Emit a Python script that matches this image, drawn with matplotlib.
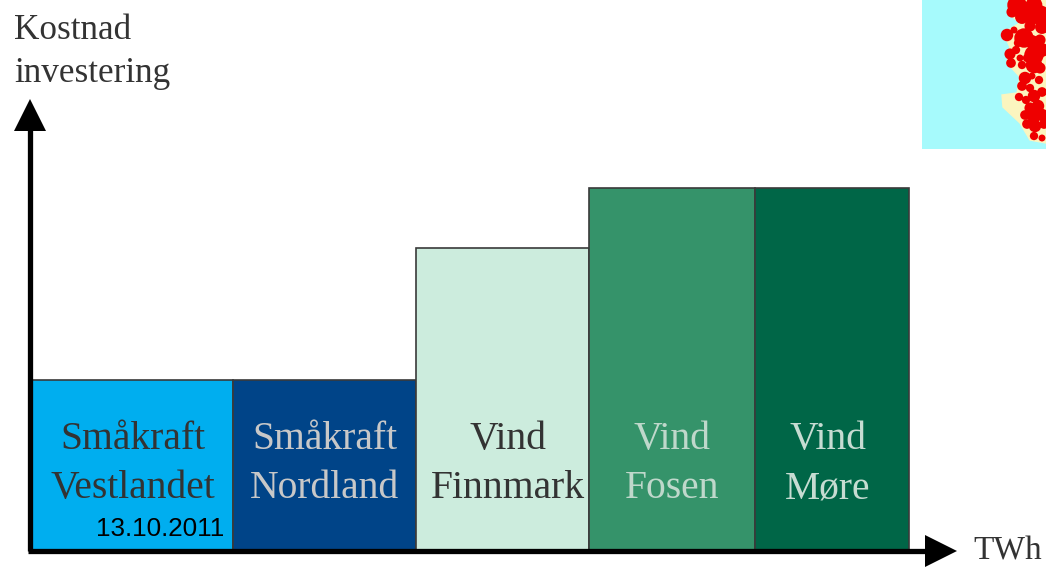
import matplotlib
matplotlib.use("Agg")
from matplotlib import pyplot as plt
from matplotlib.patches import Polygon

labels = ["Småkraft\nVestlandet", "Småkraft\nNordland", "Vind\nFinnmark", "Vind\nFosen", "Vind\nMøre"]
widths = [201, 183, 173, 166, 154]
heights = [170, 170, 302, 362, 362]
colors = ["#00AEEF", "#004488", "#CCECDD", "#35936A", "#006647"]
text_colors = ["#333333", "#C8C8C8", "#333333", "#BFD8CB", "#C6DCD2"]
label_shift = [0, 0, 5, 0, -4]

ylabel = "Kostnad\ninvestering"
xlabel = "TWh"
date = "13.10.2011"

# map inset: coast outline and red dots, in inset pixels
land_x = [88, 86, 98, 81, 88, 85, 98, 95, 80, 81, 98, 108, 124, 124]
land_y = [0, 13, 23, 33, 47, 63, 77, 93, 95, 107, 123, 140, 143, 0]
blob_x = [95, 103, 90, 112, 118, 110, 100, 120, 108, 85, 92, 102, 110, 96, 118, 88, 94, 112, 120, 105, 89, 100,
          112, 118, 98, 103, 110, 117, 100, 108, 97, 112, 120, 104, 108, 116, 103, 112, 120, 105, 113, 122, 112, 120]
blob_y = [5, 10, 12, 5, 15, 18, 17, 27, 26, 35, 30, 38, 42, 43, 40, 54, 50, 55, 50, 58, 63, 65,
          65, 68, 58, 78, 76, 80, 86, 88, 97, 96, 92, 100, 108, 106, 115, 116, 115, 124, 126, 124, 136, 138]
blob_d = [14, 12, 8, 12, 14, 10, 10, 10, 8, 9, 5, 14, 10, 6, 8, 8, 6, 14, 10, 6, 7, 6,
          12, 8, 5, 9, 5, 6, 7, 6, 6, 9, 7, 6, 8, 9, 7, 10, 9, 7, 9, 7, 6, 5]

fig = plt.figure(figsize=(10.46, 5.68), dpi=100)
ax = fig.add_axes([0, 0, 1, 1])
ax.set_xlim(-32, 1014)
ax.set_ylim(-18, 550)
ax.axis("off")

left = 0
for label, w, h, c, tc, dx in zip(labels, widths, heights, colors, text_colors, label_shift):
    ax.bar(left, h, width=w, align="edge", color=c, edgecolor="#3A3A3A", linewidth=1.2, zorder=2)
    ax.text(left + w / 2 + dx, 86, label, ha="center", va="center", color=tc, family="Liberation Serif",
            fontsize=28.5, linespacing=1.45, zorder=3)
    left += w

# axes with arrow heads
ax.plot([-2, -2], [-1, 430], color="black", lw=3.8, zorder=4, solid_capstyle="butt")
ax.plot([-4, 900], [-1, -1], color="black", lw=3.8, zorder=4, solid_capstyle="butt")
ax.plot(-2, 435, marker="^", ms=23, color="black", mew=0, zorder=4)
ax.plot(909, -1, marker=">", ms=23, color="black", mew=0, zorder=4)

ax.text(-18, 498, ylabel, ha="left", va="center", color="#333333", family="Liberation Serif",
        fontsize=25.3, linespacing=1.38)
ax.text(941, -1, xlabel, ha="left", va="center", color="#333333", family="Liberation Serif", fontsize=24)
ax.text(64, 21, date, ha="left", va="center", color="black", family="Liberation Sans", fontsize=18.7, zorder=5)

# map in the top right corner
inset = fig.add_axes([922 / 1046, 1 - 149 / 568, 124 / 1046, 149 / 568])
inset.set_xlim(0, 124)
inset.set_ylim(149, 0)
inset.set_facecolor("#A6FAFC")
inset.set_xticks([])
inset.set_yticks([])
for spine in inset.spines.values():
    spine.set_visible(False)
inset.add_patch(Polygon(list(zip(land_x, land_y)), closed=True, color="#FBF5BF"))
inset.scatter(blob_x, blob_y, s=[d ** 2 for d in blob_d], color="#EE0000", linewidths=0)

plt.savefig("out.png", dpi=100)
